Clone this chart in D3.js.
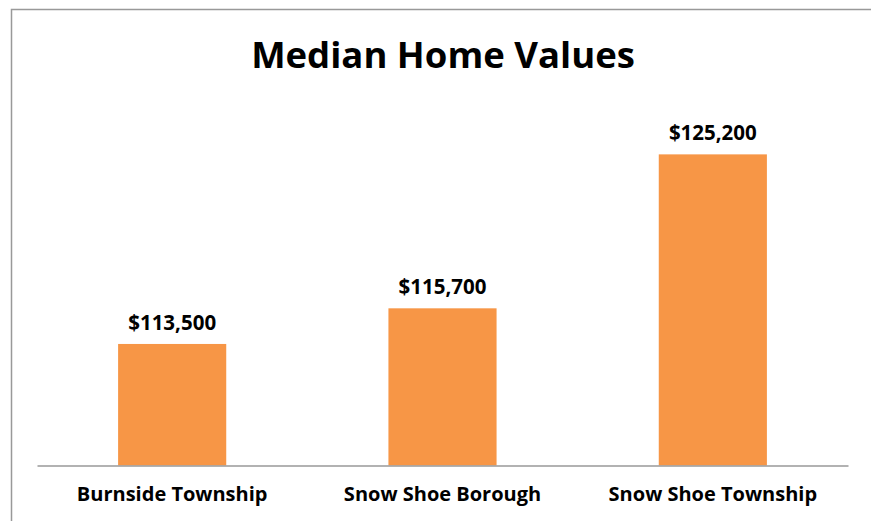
<!DOCTYPE html>
<html>
<head>
<meta charset="utf-8">
<script src="https://cdn.jsdelivr.net/npm/d3@7"></script>
<style>
  body { margin: 0; background: #fff; }
  text { font-family: "Open Sans", Lato, sans-serif; font-weight: bold; fill: #000; }
</style>
</head>
<body>
<svg id="chart" width="871" height="521"></svg>
<script>
// data
const places = ['Burnside Township', 'Snow Shoe Borough', 'Snow Shoe Township'];
const homeValues = [113500, 115700, 125200];

const svg = d3.select('#chart');

// chart frame (only top and left edges visible)
svg.append('path')
  .attr('d', 'M11.5,521 V9.5 H871')
  .attr('fill', 'none')
  .attr('stroke', '#999')
  .attr('stroke-width', 1.5);

svg.append('text')
  .attr('x', 443)
  .attr('y', 68)
  .attr('text-anchor', 'middle')
  .style('font-size', '36.5px')
  .text('Median Home Values');

const x = d3.scaleBand()
  .domain(places)
  .range([37, 848])
  .paddingInner(0.6)
  .paddingOuter(0.3);

const y = d3.scaleLinear()
  .domain([106000, 128000])
  .range([465.5, 109]);

const fmt = d3.format('$,');

svg.selectAll('rect.bar')
  .data(homeValues)
  .enter()
  .append('rect')
  .attr('class', 'bar')
  .attr('x', (d, i) => x(places[i]))
  .attr('y', d => y(d))
  .attr('width', x.bandwidth())
  .attr('height', d => y.range()[0] - y(d))
  .attr('fill', '#f79646');

svg.selectAll('text.val')
  .data(homeValues)
  .enter()
  .append('text')
  .attr('class', 'val')
  .attr('x', (d, i) => x(places[i]) + x.bandwidth() / 2)
  .attr('y', d => y(d) - 14)
  .attr('text-anchor', 'middle')
  .style('font-size', '20.5px')
  .text(d => fmt(d));

// category axis
const xAxis = svg.append('g')
  .attr('transform', 'translate(0,465.5)')
  .call(d3.axisBottom(x).tickSize(0).tickPadding(21));
xAxis.select('.domain').attr('stroke', '#999').attr('stroke-width', 1.5);
xAxis.selectAll('text')
  .style('font-size', '20px')
  .style('font-family', '"Open Sans", sans-serif')
  .attr('fill', '#000');
</script>
</body>
</html>
